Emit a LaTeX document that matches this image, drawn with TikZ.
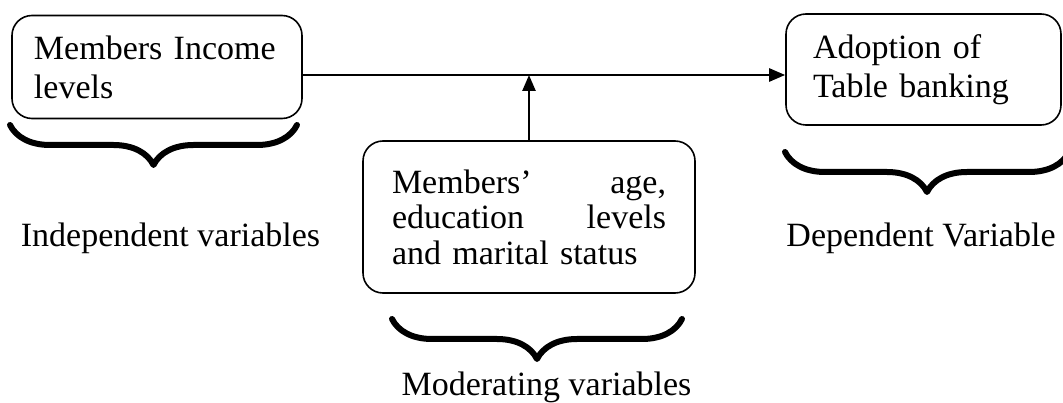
\documentclass[tikz,border=0pt]{standalone}
\usepackage{fontspec}
\setmainfont{Liberation Serif}
\usetikzlibrary{arrows.meta,decorations.pathreplacing}
\begin{document}
\begin{tikzpicture}[x=1pt,y=-1pt,
  varbox/.style={draw, line width=1.6pt, rounded corners=20pt, inner ysep=0pt, align=left, font=\fontsize{34}{39}\selectfont},
  arr/.style={line width=2.5pt, -{Triangle[length=16pt,width=13pt]}},
  curly/.style={decorate, decoration={brace, mirror, amplitude=40pt}, line width=6pt, line cap=round, line join=round},
  lbl/.style={inner sep=0pt, anchor=base, font=\fontsize{34}{37}\selectfont}]
\useasboundingbox (0,0) rectangle (1063,403);
% boxes
\node[varbox, inner xsep=22pt, text width=246pt, minimum height=103pt] (income) at (157,67) {Members Income\\levels};
\node[varbox, inner xsep=27pt, text width=221pt, minimum height=111pt] (adopt) at (923.5,69.5) {Adoption of\\Table banking};
\node[varbox, inner xsep=29pt, text width=274pt, minimum height=152pt, font=\fontsize{34}{35.5}\selectfont] (moder) at (529,217) {Members’\hfill age,\\education\hfill levels\\and marital status};
% arrows
\coordinate (mainline) at ([yshift=-8pt]income.east);
\draw[arr] (mainline) -- (mainline -| adopt.west);
\draw[arr] (moder.north) -- (moder.north |- mainline);
% braces
\draw[curly] (10,125) -- (297,125);
\draw[curly] (392,319) -- (682,319);
\draw[curly] (785,152) -- (1069,152);
% labels
\node[lbl] (indep) at (170.5,247) {Independent variables};
\node[lbl] (dep) at (921,247) {Dependent Variable};
\node[lbl] (modlbl) at (546.5,395) {Moderating variables};
\end{tikzpicture}
\end{document}
